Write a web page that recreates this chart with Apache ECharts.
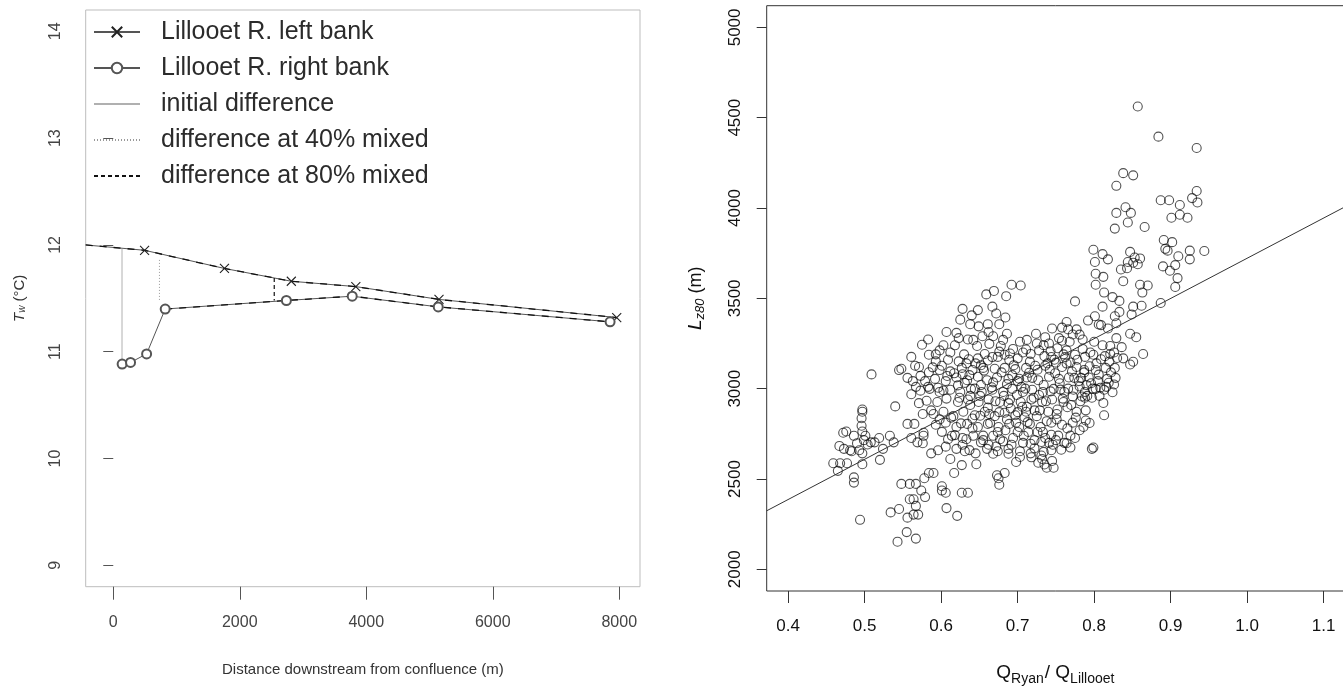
<!DOCTYPE html>
<html>
<head>
<meta charset="utf-8">
<script src="https://cdn.jsdelivr.net/npm/echarts@6/dist/echarts.min.js"></script>
<style>
  html, body { margin: 0; padding: 0; background: #fff; }
  #chart { width: 1343px; height: 687px; }
</style>
</head>
<body>
<div id="chart"></div>
<script>
// left panel: water temperature downstream of the confluence
var leftBankX = [-436, 495, 1758, 2815, 3835, 5150, 7960];
var leftBankT = [12.0, 11.95, 11.78, 11.66, 11.61, 11.49, 11.32];
var rightBankX = [140, 273, 527, 821, 2737, 3778, 5138, 7855];
var rightBankT = [10.885, 10.90, 10.98, 11.40, 11.48, 11.52, 11.42, 11.28];
var initDiffX = [138, 138];
var initDiffT = [11.963, 10.885];
var mix40X = [730, 730];
var mix40T = [11.86, 11.47];
var mix80X = [2545, 2545];
var mix80T = [11.69, 11.48];
var distTicks = [0, 2000, 4000, 6000, 8000];
var tempTicks = [9, 10, 11, 12, 13, 14];

// right panel: mixing length vs discharge ratio
var ratioTicks = [0.4, 0.5, 0.6, 0.7, 0.8, 0.9, 1.0, 1.1];
var lengthTicks = [2000, 2500, 3000, 3500, 4000, 4500, 5000];
var fitQ = [0.372, 1.128];
var fitL = [2324, 4007];
var qlPairs = [
  [0.857,4562],[0.884,4395],[0.934,4332],[0.838,4193],[0.851,4181],[0.829,4123],[0.934,4094],[0.928,4055],
  [0.887,4043],[0.898,4043],[0.935,4031],[0.912,4017],[0.841,4004],[0.829,3973],[0.848,3973],[0.912,3963],
  [0.901,3946],[0.922,3946],[0.844,3920],[0.866,3895],[0.827,3886],[0.891,3823],[0.902,3811],[0.893,3774],
  [0.944,3762],[0.925,3764],[0.896,3764],[0.847,3757],[0.799,3769],[0.811,3745],[0.853,3726],[0.860,3721],
  [0.910,3733],[0.925,3716],[0.818,3716],[0.844,3701],[0.851,3697],[0.857,3689],[0.890,3677],[0.906,3684],
  [0.899,3653],[0.835,3660],[0.843,3667],[0.801,3701],[0.802,3636],[0.909,3612],[0.838,3595],[0.812,3619],
  [0.906,3563],[0.860,3575],[0.870,3571],[0.863,3532],[0.802,3575],[0.813,3532],[0.824,3507],[0.811,3454],
  [0.887,3474],[0.862,3459],[0.851,3454],[0.833,3486],[0.775,3483],[0.801,3401],[0.827,3401],[0.849,3411],
  [0.833,3425],[0.809,3352],[0.818,3333],[0.829,3362],[0.792,3377],[0.847,3304],[0.855,3285],[0.829,3280],
  [0.821,3236],[0.838,3168],[0.851,3149],[0.864,3192],[0.847,3134],[0.821,3192],
  [0.692,3575],[0.704,3571],[0.659,3522],[0.669,3541],[0.685,3512],[0.628,3442],[0.648,3435],[0.640,3406],
  [0.667,3454],[0.672,3416],[0.684,3394],[0.625,3382],[0.638,3357],[0.649,3345],[0.661,3357],[0.676,3357],
  [0.662,3314],[0.686,3304],[0.620,3309],[0.607,3314],[0.575,3243],[0.583,3272],[0.623,3280],[0.635,3272],
  [0.647,3236],[0.678,3236],[0.703,3260],[0.724,3304],[0.736,3285],[0.745,3333],[0.758,3338],[0.766,3328],
  [0.764,3369],[0.777,3328],[0.781,3299],[0.785,3272],[0.758,3265],[0.734,3241],[0.711,3217],
  [0.561,3176],[0.584,3188],[0.598,3212],[0.612,3200],[0.593,3151],[0.566,3127],[0.545,3103],[0.548,3110],
  [0.509,3079],[0.601,3127],[0.623,3151],[0.636,3163],[0.648,3168],[0.661,3156],[0.674,3176],[0.683,3188],
  [0.700,3168],[0.717,3192],[0.728,3212],[0.743,3207],[0.752,3224],[0.764,3212],[0.775,3188],[0.788,3176],
  [0.799,3188],[0.809,3163],[0.815,3115],[0.827,3115],[0.802,3103],[0.787,3103],[0.777,3120],[0.764,3139],
  [0.750,3144],[0.736,3127],[0.723,3127],[0.711,3115],[0.697,3108],[0.683,3115],[0.670,3110],[0.655,3115],
  [0.641,3103],[0.627,3115],[0.612,3096],[0.598,3103],[0.584,3091],[0.573,3071],[0.563,3042],[0.579,3042],
  [0.592,3054],[0.606,3042],[0.620,3062],[0.634,3047],[0.648,3066],[0.660,3047],[0.673,3062],[0.688,3054],
  [0.700,3042],[0.712,3062],[0.727,3047],[0.741,3066],[0.754,3054],[0.767,3062],[0.780,3042],[0.793,3062],
  [0.805,3042],[0.817,3054],[0.826,3023],[0.813,2994],[0.802,2999],[0.788,2982],[0.773,2994],[0.761,2982],
  [0.747,2999],[0.733,2982],[0.719,2994],[0.707,2982],[0.693,2999],[0.681,2982],[0.667,2994],[0.653,2982],
  [0.639,2999],[0.625,2982],[0.612,2994],[0.598,2982],[0.585,2999],[0.573,2989],[0.561,2969],[0.581,2933],
  [0.595,2926],[0.607,2945],[0.622,2926],[0.635,2940],[0.649,2926],[0.662,2940],[0.677,2926],[0.690,2940],
  [0.704,2926],[0.718,2940],[0.732,2926],[0.745,2940],[0.760,2926],[0.772,2957],[0.784,2957],[0.788,2950],
  [0.812,2921],[0.813,2853],[0.540,2902],[0.590,2860],[0.603,2872],[0.616,2848],[0.629,2872],[0.644,2853],
  [0.657,2872],[0.670,2848],[0.683,2867],[0.697,2853],[0.711,2872],[0.725,2848],[0.740,2872],[0.752,2885],
  [0.765,2897],[0.777,2872],[0.789,2824],[0.786,2788],[0.772,2812],[0.758,2800],[0.744,2812],[0.730,2788],
  [0.716,2805],[0.702,2788],[0.689,2805],[0.675,2788],[0.661,2805],[0.648,2788],[0.634,2805],[0.620,2788],
  [0.606,2812],[0.593,2800],[0.577,2756],[0.565,2805],[0.556,2805],[0.601,2761],[0.614,2739],[0.628,2727],
  [0.642,2739],[0.655,2715],[0.668,2739],[0.681,2708],[0.694,2727],[0.708,2739],[0.722,2715],[0.736,2727],
  [0.750,2715],[0.764,2698],[0.775,2727],[0.769,2674],[0.744,2659],[0.731,2630],[0.717,2642],[0.703,2654],
  [0.688,2667],[0.674,2654],[0.660,2667],[0.645,2642],[0.631,2654],[0.620,2667],[0.606,2679],[0.596,2659],
  [0.587,2642],[0.612,2611],[0.627,2577],[0.646,2582],[0.673,2521],[0.683,2533],[0.698,2594],[0.732,2611],
  [0.738,2562],[0.747,2562],[0.797,2667],[0.799,2674],[0.617,2533],[0.601,2460],[0.601,2436],[0.584,2533],
  [0.590,2533],[0.578,2504],[0.567,2473],[0.559,2473],[0.548,2473],[0.574,2436],[0.579,2400],[0.564,2388],
  [0.559,2388],[0.567,2351],[0.570,2303],[0.564,2303],[0.556,2286],[0.545,2334],[0.534,2315],[0.607,2339],
  [0.621,2296],[0.606,2424],[0.627,2424],[0.635,2424],[0.555,2206],[0.543,2153],[0.567,2170],[0.675,2504],
  [0.676,2468],[0.494,2274],[0.486,2509],[0.486,2480],
  [0.459,2587],[0.465,2545],[0.468,2587],[0.477,2587],[0.467,2683],[0.473,2667],[0.481,2659],[0.472,2756],
  [0.476,2763],[0.486,2739],[0.490,2698],[0.493,2659],[0.497,2642],[0.497,2582],[0.499,2715],[0.497,2763],
  [0.496,2795],[0.496,2836],[0.497,2872],[0.497,2885],[0.501,2739],[0.504,2691],[0.508,2703],[0.513,2703],
  [0.519,2727],[0.524,2667],[0.520,2606],[0.533,2739],[0.483,2654],
  [0.561,2727],[0.569,2703],[0.576,2698],[0.538,2703],[0.577,2739],
  [0.652,3020],[0.668,3035],[0.693,3075],[0.705,3010],[0.715,3088],[0.728,2965],[0.742,3105],[0.756,2995],
  [0.769,3145],[0.781,3012],[0.794,3124],[0.806,3078],[0.819,3033],[0.722,2880],[0.698,2812],[0.674,2760],
  [0.661,2895],[0.688,2920],[0.709,2842],[0.733,2760],[0.746,2690],[0.757,2662],[0.717,2695],[0.703,2622],
  [0.688,2640],[0.672,2680],[0.652,2703],[0.633,2720],[0.618,2743],[0.626,2808],[0.641,2835],[0.596,3005],
  [0.608,3070],[0.622,3018],[0.637,3075],[0.645,3140],[0.657,3192],[0.663,3248],[0.676,3205],[0.689,3160],
  [0.716,3150],[0.735,3180],[0.748,3160],[0.758,3120],[0.771,3095],[0.783,3060],[0.796,3030],[0.808,3005],
  [0.822,3090],[0.814,3180],[0.826,3200],[0.836,3230],[0.800,3260],[0.806,3355],[0.789,2880],[0.794,2810],
  [0.781,2770],[0.769,2740],[0.744,2745],[0.731,2705],[0.718,2620],[0.745,2600],[0.735,2580],
  [0.583,3010],[0.589,3118],[0.603,2990],[0.609,3160],[0.617,3085],[0.624,2950],[0.631,3032],[0.638,2910],
  [0.644,3000],[0.651,2960],[0.656,3100],[0.663,2860],[0.666,3008],[0.671,2930],[0.679,3090],[0.682,2960],
  [0.686,3025],[0.691,2890],[0.695,3130],[0.699,2965],[0.702,3055],[0.706,2900],[0.710,3000],[0.713,2815],
  [0.719,3060],[0.721,2950],[0.726,3105],[0.729,2880],[0.734,3020],[0.737,2930],[0.739,3140],[0.743,2985],
  [0.749,3085],[0.751,2860],[0.755,3030],[0.759,2945],[0.762,3175],[0.766,3000],[0.770,2910],[0.774,3060],
  [0.778,3160],[0.782,2930],[0.787,3090],[0.791,2960],[0.795,3200],[0.798,3000],[0.803,3140],[0.807,2960],
  [0.811,3240],[0.816,3010],[0.820,3150],[0.824,2980],[0.828,3060],[0.830,3170],[0.655,2740],[0.662,2690],
  [0.668,2640],[0.677,2720],[0.684,2770],[0.692,2690],[0.700,2760],[0.707,2700],[0.714,2760],[0.722,2670],
  [0.727,2590],[0.734,2650],[0.741,2700],[0.753,2740],[0.761,2700],[0.628,2690],[0.637,2660],[0.641,2780],
  [0.609,2720],[0.613,2840],[0.598,2830],[0.587,2880],[0.571,2920],[0.576,2860],[0.567,3010],[0.556,3060],
  [0.571,3120],[0.618,3240],[0.630,3190],[0.642,3270],[0.654,3290],[0.668,3290],[0.681,3270],[0.694,3220],
  [0.712,3270],[0.725,3250],[0.741,3250],[0.754,3280],[0.768,3260],[0.772,3300],[0.744,3175],[0.760,3190],
  [0.707,3200],[0.690,3195],[0.667,3175],[0.652,3130],[0.633,3140],[0.603,3240],[0.593,3190],[0.785,3220],
  [0.790,3020],[0.797,2950],[0.776,2840],[0.765,2780],[0.751,2830],[0.738,2820],[0.726,2760],[0.712,2900],
  [0.700,2870],[0.686,2830],[0.676,2870],[0.664,2810],[0.651,2850],[0.638,2960],[0.628,3080]
];

function zip(xs, ys) {
  return xs.map(function (x, i) { return [x, ys[i]]; });
}

var font = '"Liberation Sans", Arial, sans-serif';
var crossPath = 'path://M0,0L10,10M10,0L0,10';

var leftBankData = zip(leftBankX, leftBankT).map(function (p, i) {
  return i === 0 ? { value: p, symbol: 'none' } : p;
});

var myChart = echarts.init(document.getElementById('chart'), null, { renderer: 'canvas' });

var option = {
  animation: false,
  backgroundColor: '#fff',
  textStyle: { fontFamily: font },
  grid: [
    { left: 85.7, top: 10, width: 554.3, height: 576.7, show: true, borderColor: '#bdbdbd', borderWidth: 1, outerBoundsMode: 'none' },
    { left: 766.7, top: 5.7, width: 578.4, height: 585.3, show: true, borderColor: '#333', borderWidth: 1, outerBoundsMode: 'none' }
  ],
  legend: {
    data: ['Lillooet R. left bank', 'Lillooet R. right bank', 'initial difference',
      'difference at 40% mixed', 'difference at 80% mixed'],
    orient: 'vertical',
    left: 93,
    top: 14,
    padding: 0,
    itemGap: 0,
    itemWidth: 46,
    itemHeight: 13,
    selectedMode: false,
    textStyle: { fontFamily: font, fontSize: 25, color: '#2b2b2b', lineHeight: 36, padding: [0, 0, 0, 16] }
  },
  xAxis: [
    {
      type: 'value', gridIndex: 0, min: -436, max: 8328,
      splitLine: { show: false },
      axisLine: { show: false },
      axisTick: { length: 13, customValues: distTicks, lineStyle: { color: '#555' } },
      axisLabel: {
        customValues: distTicks, margin: 28, fontSize: 16, color: '#444', fontFamily: font,
        formatter: function (v) { return String(v); }
      },
      name: 'Distance downstream from confluence (m)',
      nameLocation: 'middle', nameGap: 76,
      nameTextStyle: { fontSize: 15, color: '#333', fontFamily: font }
    },
    {
      type: 'value', gridIndex: 1, min: 0.372, max: 1.128,
      splitLine: { show: false },
      axisLine: { show: false },
      axisTick: { length: 12, customValues: ratioTicks, lineStyle: { color: '#333' } },
      axisLabel: {
        customValues: ratioTicks, margin: 27, fontSize: 17, color: '#111', fontFamily: font,
        formatter: function (v) { return v.toFixed(1); }
      },
      name: '{q|Q}{s|Ryan}{q|/ Q}{s|Lillooet}',
      nameLocation: 'middle', nameGap: 69,
      nameTextStyle: {
        fontFamily: font, color: '#111',
        rich: {
          q: { fontSize: 19, fontFamily: font, color: '#111' },
          s: { fontSize: 14, fontFamily: font, color: '#111', padding: [12, 1, 0, 0] }
        }
      }
    }
  ],
  yAxis: [
    {
      type: 'value', gridIndex: 0, min: 8.8, max: 14.2,
      splitLine: { show: false },
      axisLine: { show: false },
      axisTick: { length: 10, customValues: tempTicks, lineStyle: { color: '#555' } },
      axisLabel: {
        customValues: tempTicks, rotate: 90, margin: 22, fontSize: 16, color: '#444', fontFamily: font,
        formatter: function (v) { return String(v); }
      },
      name: '{i|T}{s|w} (°C)',
      nameLocation: 'middle', nameRotate: 90, nameGap: 58,
      nameTextStyle: {
        fontFamily: font, color: '#333', fontSize: 15,
        rich: {
          i: { fontSize: 15, fontStyle: 'italic', fontFamily: font, color: '#333' },
          s: { fontSize: 10, fontStyle: 'italic', fontFamily: font, color: '#333', padding: [6, 0, 0, 0] }
        }
      }
    },
    {
      type: 'value', gridIndex: 1, min: 1880, max: 5120,
      splitLine: { show: false },
      axisLine: { show: false },
      axisTick: { length: 10, customValues: lengthTicks, lineStyle: { color: '#333' } },
      axisLabel: {
        customValues: lengthTicks, rotate: 90, margin: 23, fontSize: 17, color: '#111', fontFamily: font,
        formatter: function (v) { return String(v); }
      },
      name: '{i|L}{s|z80} (m)',
      nameLocation: 'middle', nameRotate: 90, nameGap: 60,
      nameTextStyle: {
        fontFamily: font, color: '#111', fontSize: 18,
        rich: {
          i: { fontSize: 19, fontStyle: 'italic', fontFamily: font, color: '#111' },
          s: { fontSize: 13, fontStyle: 'italic', fontFamily: font, color: '#111', padding: [8, 0, 0, 0] }
        }
      }
    }
  ],
  series: [
    {
      name: 'Lillooet R. left bank', type: 'line', xAxisIndex: 0, yAxisIndex: 0,
      data: leftBankData,
      symbol: crossPath, symbolSize: 9,
      itemStyle: { color: '#222', borderColor: '#222', borderWidth: 1.1 },
      lineStyle: { color: '#555', width: 1 }
    },
    {
      name: 'Lillooet R. right bank', type: 'line', xAxisIndex: 0, yAxisIndex: 0,
      data: zip(rightBankX, rightBankT),
      symbol: 'emptyCircle', symbolSize: 9,
      itemStyle: { color: '#555', borderWidth: 1 },
      lineStyle: { color: '#555', width: 1 }
    },
    {
      name: 'initial difference', type: 'line', xAxisIndex: 0, yAxisIndex: 0,
      data: zip(initDiffX, initDiffT), symbol: 'none',
      itemStyle: { color: '#b0b0b0', opacity: 0 },
      lineStyle: { color: '#b0b0b0', width: 1 }
    },
    {
      name: 'difference at 40% mixed', type: 'line', xAxisIndex: 0, yAxisIndex: 0,
      data: zip(mix40X, mix40T), symbol: 'none',
      itemStyle: { color: '#999', opacity: 0 },
      lineStyle: { color: '#999', width: 1, type: [1, 2] }
    },
    {
      name: 'difference at 80% mixed', type: 'line', xAxisIndex: 0, yAxisIndex: 0,
      data: zip(mix80X, mix80T), symbol: 'none',
      itemStyle: { color: '#111', opacity: 0 },
      lineStyle: { color: '#111', width: 1.2, type: [4, 3] }
    },
    // dashed overlay seen on the bank lines
    {
      type: 'line', xAxisIndex: 0, yAxisIndex: 0, silent: true,
      data: zip(leftBankX, leftBankT), symbol: 'none',
      lineStyle: { color: '#111', width: 1.3, type: [7, 7] }
    },
    {
      type: 'line', xAxisIndex: 0, yAxisIndex: 0, silent: true,
      data: zip(rightBankX.slice(3), rightBankT.slice(3)), symbol: 'none',
      lineStyle: { color: '#111', width: 1.3, type: [7, 7] }
    },
    {
      type: 'scatter', xAxisIndex: 1, yAxisIndex: 1,
      data: qlPairs, symbol: 'circle', symbolSize: 9,
      itemStyle: { color: 'rgba(0,0,0,0)', borderColor: 'rgba(0,0,0,0.85)', borderWidth: 1.1 }
    },
    {
      type: 'line', xAxisIndex: 1, yAxisIndex: 1,
      data: zip(fitQ, fitL), symbol: 'none',
      lineStyle: { color: '#333', width: 1 }
    }
  ]
};

myChart.setOption(option);
</script>
</body>
</html>
